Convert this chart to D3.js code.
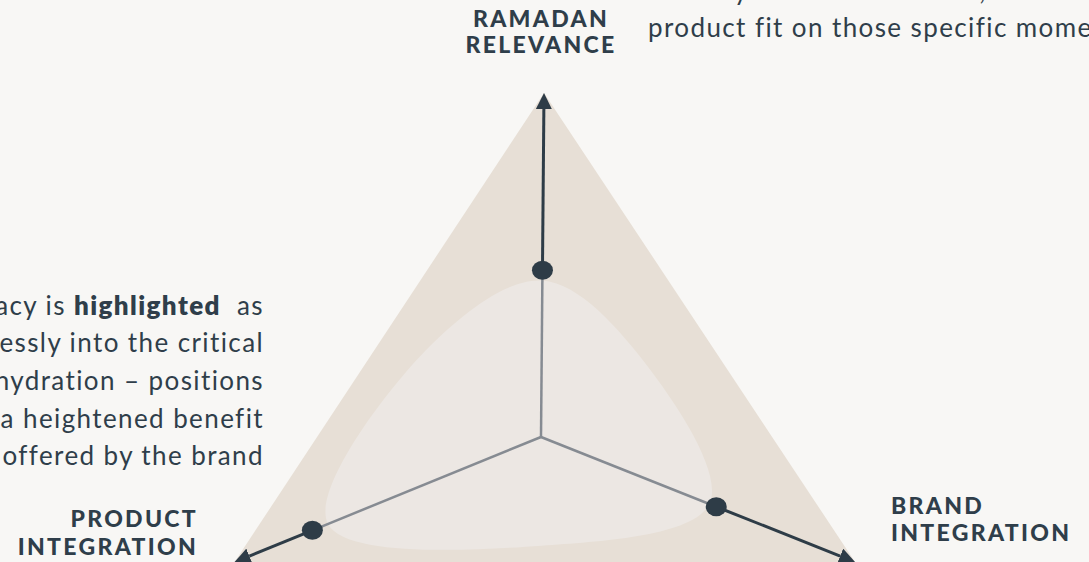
<!DOCTYPE html>
<html><head><meta charset="utf-8">
<script src="https://cdn.jsdelivr.net/npm/d3@7"></script>
<style>
html,body{margin:0;padding:0;background:#f8f7f5;overflow:hidden}
svg{display:block}
</style></head><body>
<svg id="chart" width="1089" height="562"></svg>
<script>
// ---------- data ----------
const categories = ["RAMADAN RELEVANCE", "BRAND INTEGRATION", "PRODUCT INTEGRATION"];
const labelLines = [["RAMADAN", "RELEVANCE"], ["BRAND", "INTEGRATION"], ["PRODUCT", "INTEGRATION"]];
const scores = [4.85, 5.58, 7.46];
const scoreMax = 10;
const benchmarkOnAxes = [4.55, 5.36, 6.95];
const benchmarkBetweenAxes = [3.75, 3.25, 4.3];
const topNoteLines = [
  [["Directly tied to iftar times, there is a strong", false]],
  [["product fit on those specific moments", false]]
];
const sideNoteLines = [
  [["Its hydration efficacy is ", false], ["highlighted", true], ["  as", false]],
  [["it fits seamlessly into the critical", false]],
  [["need for hydration \u2013 positions", false]],
  [["it as a heightened benefit", false]],
  [["offered by the brand", false]]
];

// ---------- layout ----------
const W = 1089, H = 562;
const cx = 541, cy = 437;
const axisAngles = [-89.5, 21.7, 157.8];
const axisLengths = [344, 338, 331];
const C = {
  bg: "#f8f7f5", outer: "#e7dfd6", inner: "#ece7e3",
  grey: "#868b92", dark: "#2e3c47", text: "#2f3e4a"
};

const svg = d3.select("#chart");
svg.append("rect").attr("width", W).attr("height", H).attr("fill", C.bg);

const r = d3.scaleLinear().domain([0, scoreMax]).range([0, 1]);
const rad = a => a * Math.PI / 180;
function pt(angleDeg, len, v) {
  const d = r(v) * len;
  return [cx + d * Math.cos(rad(angleDeg)), cy + d * Math.sin(rad(angleDeg))];
}
const axisPt = (i, v) => pt(axisAngles[i], axisLengths[i], v);

// outer triangle (max score on each axis)
const lineLin = d3.line().curve(d3.curveLinearClosed);
svg.append("path")
  .attr("d", lineLin(categories.map((c, i) => axisPt(i, scoreMax))))
  .attr("fill", C.outer);

// inner rounded benchmark shape
const innerPts = [];
categories.forEach((c, i) => {
  innerPts.push(axisPt(i, benchmarkOnAxes[i]));
  const j = (i + 1) % categories.length;
  let a1 = axisAngles[i], a2 = axisAngles[j];
  if (a2 < a1) a2 += 360;
  const mid = (a1 + a2) / 2;
  const len = (axisLengths[i] + axisLengths[j]) / 2;
  innerPts.push(pt(mid, len, benchmarkBetweenAxes[i]));
});
svg.append("path")
  .attr("d", d3.line().curve(d3.curveCatmullRomClosed.alpha(0.5))(innerPts))
  .attr("fill", C.inner);

// arrow marker
const defs = svg.append("defs");
defs.append("marker")
  .attr("id", "arrow")
  .attr("markerUnits", "userSpaceOnUse")
  .attr("viewBox", "0 0 16 16")
  .attr("markerWidth", 16).attr("markerHeight", 16)
  .attr("refX", 0).attr("refY", 8)
  .attr("orient", "auto")
  .append("path").attr("d", "M0,0 L16,8 L0,16 Z").attr("fill", C.dark);

// axes: grey from centre to score, dark from score to tip
categories.forEach((c, i) => {
  const p = axisPt(i, scores[i]);
  const tip = axisPt(i, scoreMax);
  svg.append("line")
    .attr("x1", cx).attr("y1", cy).attr("x2", p[0]).attr("y2", p[1])
    .attr("stroke", C.grey).attr("stroke-width", 2.5);
  const ang = rad(axisAngles[i]);
  const end = [tip[0] - 16 * Math.cos(ang), tip[1] - 16 * Math.sin(ang)];
  svg.append("line")
    .attr("x1", p[0]).attr("y1", p[1]).attr("x2", end[0]).attr("y2", end[1])
    .attr("stroke", C.dark).attr("stroke-width", 3)
    .attr("marker-end", "url(#arrow)");
});

// score dots
svg.selectAll("ellipse.dot").data(scores).enter().append("ellipse")
  .attr("class", "dot")
  .attr("cx", (d, i) => axisPt(i, d)[0])
  .attr("cy", (d, i) => axisPt(i, d)[1])
  .attr("rx", 10.5).attr("ry", 9.5)
  .attr("fill", C.dark);

// axis labels
const labelPos = [
  { x: 541, y: [27, 53], anchor: "middle" },
  { x: 891, y: [514, 541], anchor: "start" },
  { x: 198, y: [527, 555], anchor: "end" }
];
labelLines.forEach((lines, i) => {
  lines.forEach((t, k) => {
    svg.append("text")
      .attr("x", labelPos[i].x).attr("y", labelPos[i].y[k])
      .attr("text-anchor", labelPos[i].anchor)
      .attr("font-family", "Lato, 'Open Sans', sans-serif")
      .attr("font-weight", 900).attr("font-size", 23)
      .attr("letter-spacing", 2.3)
      .attr("fill", C.text)
      .text(t);
  });
});

// notes
function note(lines, x, ys, anchor) {
  lines.forEach((segs, k) => {
    const t = svg.append("text")
      .attr("x", x).attr("y", ys[k])
      .attr("text-anchor", anchor)
      .attr("font-family", "Lato, 'Open Sans', sans-serif")
      .attr("font-size", 26).attr("letter-spacing", 1.4)
      .attr("fill", C.text)
      .style("white-space", "pre");
    segs.forEach(s => t.append("tspan").attr("font-weight", s[1] ? 800 : 400).text(s[0]));
  });
}
note(topNoteLines, 648, [-0.5, 37], "start");
note(sideNoteLines, 264, [315, 352, 390, 428, 465], "end");
</script>
</body></html>
